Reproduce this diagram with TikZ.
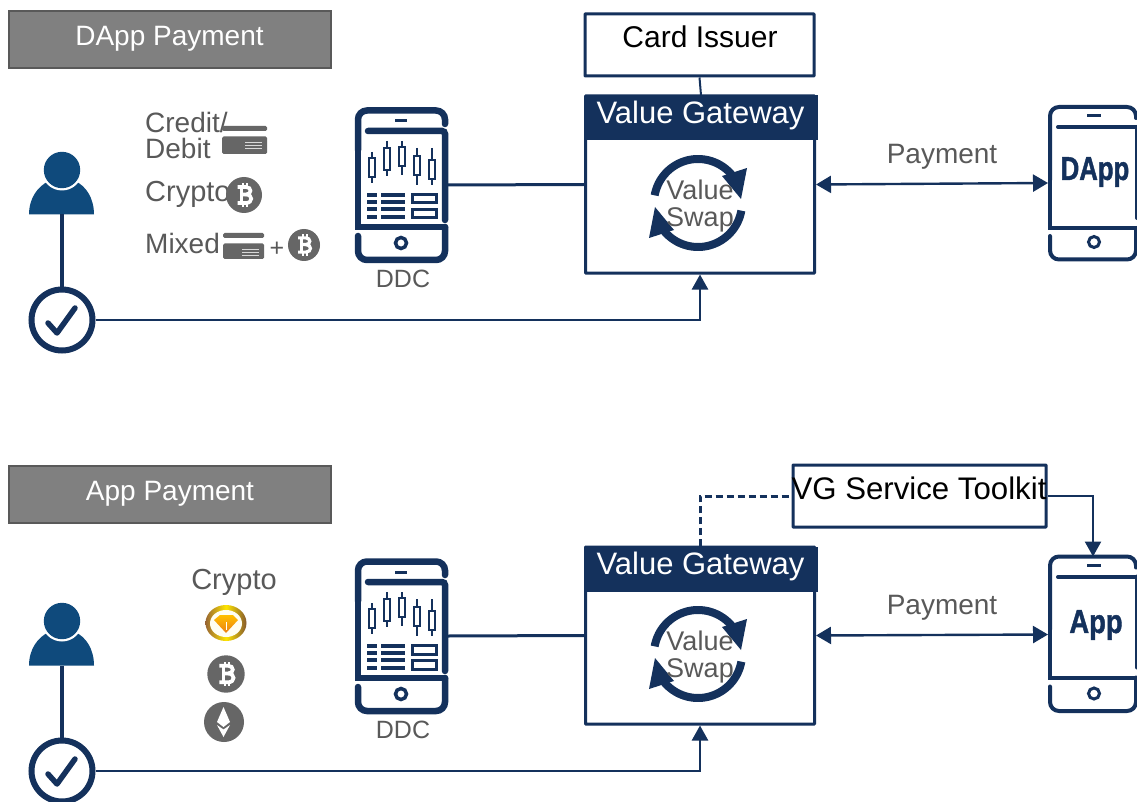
\documentclass[tikz,border=0pt]{standalone}
\usepackage{fontspec}
\usepackage{graphicx}
\setmainfont{Liberation Sans}
\newfontfamily\heavyfont[BoldFeatures={FakeBold=1.5}]{Liberation Sans}
\usetikzlibrary{arrows.meta,calc}
\definecolor{navy}{HTML}{14315C}
\definecolor{usr}{HTML}{0F4A7C}
\definecolor{txtg}{HTML}{595959}
\definecolor{icong}{HTML}{666666}
\newcommand{\fsz}[1]{\fontsize{#1}{#1}\selectfont}
\tikzset{
  framebox/.style={draw=navy,line width=3pt,fill=white,inner sep=0pt,rounded corners=0.5pt},
  headband/.style={fill=navy,inner sep=0pt},
  banner/.style={draw=txtg,line width=2pt,fill=black!50,text=white,inner sep=0pt,minimum width=322pt,minimum height=57pt},
  gtxt/.style={text=txtg,inner sep=0pt,font=\fsz{28}},
  wire/.style={draw=navy,line width=3pt},
  thinwire/.style={draw=navy,line width=2.4pt},
  tipped/.style={-{Triangle[length=15pt,width=16pt]}},
  bitipped/.style={{Triangle[length=15pt,width=17pt]}-{Triangle[length=15pt,width=17pt]}},
  ghost/.style={inner sep=0pt,outer sep=0pt},
  stroke5/.style={draw=navy,line width=6.5pt,line cap=round},
  stroke4/.style={draw=navy,line width=4pt,line cap=round},
  cndl/.style={draw=navy,line width=2.8pt},
}
\newcommand{\btccoin}[3]{%
  \begin{scope}[shift={(#1,#2)},scale=#3/18]
    \fill[icong] (0,0) circle (18);
    \draw[white,line width={#3*0.2}] (-2.5,-8) -- (-2.5,8);
    \draw[white,line width={#3*0.2}] (-6.5,-8) -- (2,-8) .. controls (8,-8) and (8,-0.5) .. (2,-0.5) -- (-2.5,-0.5);
    \draw[white,line width={#3*0.2}] (2,-0.5) .. controls (9,-0.5) and (9,8) .. (2,8) -- (-6.5,8);
    \draw[white,line width={#3*0.11}] (-1.2,-8) -- (-1.2,-12) (3,-8) -- (3,-12) (-1.2,8) -- (-1.2,12) (3,8) -- (3,12);
  \end{scope}}
\newcommand{\cardicon}[4]{% x1 x2 ytop height
  \fill[icong,rounded corners=1.5pt] (#1,#3) rectangle (#2,{#3+5});
  \fill[icong,rounded corners=1.5pt] (#1,{#3+10.5}) rectangle (#2,{#3+#4});
  \draw[white!85!black,line width=0.9pt] ({#2-22},{#3+16.5}) -- ({#2-5},{#3+16.5}) ({#2-22},{#3+19.5}) -- ({#2-5},{#3+19.5}) ({#2-22},{#3+22.5}) -- ({#2-5},{#3+22.5});}
\newcommand{\rowparts}[2]{% suffix, yoffset
  \begin{scope}[shift={(0,#2)}]
    % user
    \node[ghost,minimum size=1pt] (user#1) at (62,214) {};
    \fill[usr] (29,214.5) .. controls (29,198) and (38,186) .. (49,181) -- (75,181) .. controls (86,186) and (94,198) .. (94,214.5) -- cycle;
    \fill[white] (62,170) circle (20.5);
    \fill[usr] (62,170) circle (18.2);
    % check
    \node[draw=navy,line width=6pt,circle,minimum size=61pt,inner sep=0pt,fill=white] (check#1) at (62,320) {};
    \draw[navy,line width=5.5pt,line cap=round,line join=round] (48,323) -- (57,333) -- (75,308);
    % DDC phone
    \node[ghost,minimum width=93pt,minimum height=156pt] (ddc#1) at (401.5,185) {};
    \draw[stroke5,rounded corners=9pt] (445,124) -- (445,110.5) -- (358,110.5) -- (358,150);
    \draw[stroke5] (358,140) -- (358,227) -- (445,227);
    \draw[stroke5,rounded corners=3pt] (368,131) -- (445,131) -- (445,220);
    \draw[stroke5,rounded corners=9pt] (358,236) -- (358,260) -- (445,260) -- (445,227);
    \draw[navy,line width=3pt] (395,121) -- (407,121);
    \draw[navy,line width=3.5pt] (401,243) circle (5.5);
    \draw[cndl] (372,152) -- (372,158) (372,177) -- (372,183); \draw[cndl] (369,158) rectangle (375,177);
    \draw[cndl] (387,141) -- (387,148) (387,170) -- (387,176); \draw[cndl] (384,148) rectangle (390,170);
    \draw[cndl] (402,141) -- (402,147) (402,166) -- (402,175); \draw[cndl] (399,147) rectangle (405,166);
    \draw[cndl] (417,148) -- (417,156) (417,175) -- (417,185); \draw[cndl] (414,156) rectangle (420,175);
    \draw[cndl] (432,148) -- (432,160) (432,179) -- (432,185); \draw[cndl] (429,160) rectangle (435,179);
    \foreach \ly in {195,202,209,217} {
      \draw[navy,line width=3.2pt] (367,\ly) -- (377,\ly) (381,\ly) -- (405,\ly);
    }
    \draw[navy,line width=3pt] (412,194.5) rectangle (436,203);
    \draw[navy,line width=3pt] (412,209.5) rectangle (436,218);
    \node[gtxt,font=\fsz{25}] (ddclabel#1) at (403,279) {DDC};
    % value gateway
    \node[framebox,minimum width=229pt,minimum height=177pt] (vg#1) at (700,184.5) {};
    \node[headband,minimum width=233pt,minimum height=45pt] (vghead#1) at (701,118) {};
    \node[ghost,text=white,font=\fsz{31}] (vgtitle#1) at (700.5,115) {Value Gateway};
    \draw[navy,line width=8pt] plot[domain=190:322,samples=40] ({698+44*cos(\x)},{203+44*sin(\x)});
    \draw[navy,line width=8pt] plot[domain=10:142,samples=40] ({698+44*cos(\x)},{203+44*sin(\x)});
    \fill[navy] (722,176) -- (747,168) -- (741,199) -- cycle;
    \fill[navy] (674,230) -- (649,238) -- (655,207) -- cycle;
    \node[gtxt,font=\fsz{27}] (swap#1a) at (700,190) {Value};
    \node[gtxt,font=\fsz{27}] (swap#1b) at (700,220) {Swap};
    % wiring
    \draw[wire] (ddc#1.east) -- (vg#1.west);
    \draw[line width=3.5pt,draw=navy] (user#1.south) -- (check#1.north);
    \draw[thinwire,tipped] (check#1.east) -| (vg#1.south);
    \node[gtxt] (pay#1) at (942,157) {Payment};
  \end{scope}}
\begin{document}
\begin{tikzpicture}[x=1pt,y=-1pt]
\clip (0,0) rectangle (1137,802);
\useasboundingbox (0,0) rectangle (1137,802);
\fill[white] (0,0) rectangle (1137,802);
% ---------- top row ----------
\node[banner] (ban1) at (170,39.5) {};
\node[ghost,text=white,font=\fsz{28}] (ban1t) at (169.5,38.5) {DApp Payment};
\rowparts{1}{0}
\node[framebox,minimum width=229pt,minimum height=62pt] (issuer) at (699.5,45) {};
\node[ghost,text=black,font=\fsz{30}] (issuert) at (700,36.5) {Card Issuer};
\draw[navy,line width=2pt] (issuer.south) -- (vghead1.north);
% DApp phone
\node[ghost,minimum width=90pt,minimum height=156pt] (dapp) at (1093,183) {};
\draw[stroke4,rounded corners=9pt] (1136,118) -- (1136,107) -- (1050,107) -- (1050,180);
\draw[stroke4] (1050,170) -- (1050,228) -- (1139,228);
\draw[stroke4] (1058,127) -- (1139,127);
\draw[stroke4] (1137,127) -- (1137,218);
\draw[stroke4,rounded corners=9pt] (1050,236) -- (1050,259.5) -- (1136,259.5) -- (1136,228);
\draw[navy,line width=3pt] (1087,116) -- (1101,116);
\draw[navy,line width=3pt] (1094,242) circle (5.5);
\node[ghost,text=navy,font=\fsz{33}\heavyfont\bfseries] (dappt) at (1095,172) {\scalebox{0.78}[1]{DApp}};
\draw[thinwire,bitipped] (vg1.east) -- (dapp.west);
% left icons
\node[gtxt,align=left,anchor=west,font=\fsz{28}] (credit) at (145,135) {Credit/\\[-2pt]Debit};
\cardicon{222}{267}{126}{28}
\node[gtxt,anchor=west,font=\fsz{29}] (crypto1) at (145,194) {Crypto};
\btccoin{244}{195}{18}
\node[gtxt,anchor=west] (mixed) at (145,243) {Mixed};
\cardicon{223}{264}{233}{26}
\node[gtxt,font=\fsz{25}] (plus) at (277,249) {+};
\btccoin{304}{245}{16}
% ---------- bottom row ----------
\node[banner] (ban2) at (170,494.5) {};
\node[ghost,text=white,font=\fsz{28}] (ban2t) at (170,493.5) {App Payment};
\rowparts{2}{451}
\node[framebox,minimum width=253pt,minimum height=62pt] (toolkit) at (919.5,496) {};
\node[ghost,text=black,font=\fsz{31.2}] (toolkitt) at (919,488.5) {VG Service Toolkit};
% App phone
\begin{scope}[shift={(0,449.5)}]
\node[ghost,minimum width=90pt,minimum height=156pt] (app) at (1093,185) {};
\draw[stroke4,rounded corners=9pt] (1136,118) -- (1136,107) -- (1050,107) -- (1050,180);
\draw[stroke4] (1050,170) -- (1050,228.5) -- (1139,228.5);
\draw[stroke4] (1058,127.5) -- (1139,127.5);
\draw[stroke4] (1137,127) -- (1137,218);
\draw[stroke4,rounded corners=9pt] (1050,237) -- (1050,261.5) -- (1136,261.5) -- (1136,228);
\draw[navy,line width=3pt] (1087,116) -- (1101,116);
\draw[navy,line width=3pt] (1094,244) circle (5.5);
\end{scope}
\node[ghost,text=navy,font=\fsz{33}\heavyfont\bfseries] (appt) at (1096,625) {\scalebox{0.83}[1]{App}};
\draw[thinwire,bitipped] (vg2.east) -- (app.west);
\draw[navy,line width=3pt,dash pattern=on 7pt off 4pt] (vghead2.north -| vg2.center) |- (toolkit.west);
\draw[thinwire,tipped] (toolkit.east) -| (app.north);
\node[gtxt,font=\fsz{29}] (crypto2) at (234,582) {Crypto};
% gold token
\shade[left color=brown!80!black,right color=brown!70!black,middle color=yellow!80!orange] (226,623) ellipse (20.5 and 18);
\fill[white!95!yellow] (226,623.5) ellipse (16 and 13.5);
\shade[top color=yellow!50!orange,bottom color=orange!70!brown] (214,620) -- (220,615) -- (233,615) -- (238,620) -- (226,633) -- cycle;
\fill[white] (225.5,622) rectangle (227,630);
\btccoin{226}{674}{18.7}
% ethereum
\fill[icong] (224,722) circle (20);
\fill[white] (223.5,707) -- (217,722) -- (223.5,727) -- (230,722) -- cycle;
\fill[white] (217,725) -- (223.5,729.5) -- (230,725) -- (223.5,737) -- cycle;
\end{tikzpicture}
\end{document}
